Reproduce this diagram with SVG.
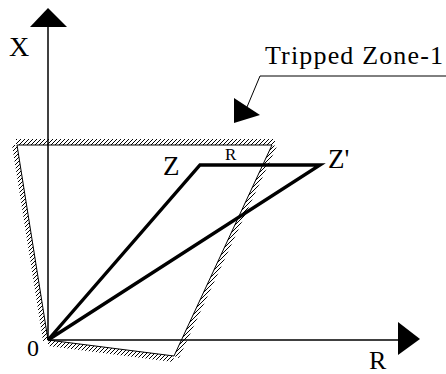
<svg xmlns="http://www.w3.org/2000/svg" width="446" height="374" viewBox="0 0 446 374">
<style>
.lbl{font-family:"Liberation Serif","Times New Roman",serif;fill:#000}
.axis{stroke:#000;stroke-width:1.5;fill:none}
.thick{stroke:#000;stroke-width:3.4;fill:none;stroke-linejoin:miter}
.edge{stroke:#000;stroke-width:1;fill:none}
.band{fill:url(#hatch);stroke:none}
</style>
<defs>
<pattern id="hatch" patternUnits="userSpaceOnUse" width="4" height="4">
<path d="M0,4 L4,0" stroke="#000" stroke-width="1"/>
</pattern>
</defs>
<rect width="446" height="374" fill="#fff"/>
<g id="zone">
<polygon class="band" points="16,139 275,139 275,145 16,145"/>
<polygon class="band" points="12,145 17,145 48,340 43,341"/>
<polygon class="band" points="272,145 277,146 179,358 174,356"/>
<polygon class="band" points="48,340 174,356 173,362 48,346"/>
<path class="edge" d="M17,145 L272,145 L174,356 L48,340 Z"/>
</g>
<g id="axes">
<line class="axis" x1="48" y1="27" x2="48" y2="340"/>
<polygon points="48,8 30,27 67,27" fill="#000"/>
<line class="axis" x1="48" y1="340" x2="398" y2="340"/>
<polygon points="420,339 398,322 398,355" fill="#000"/>
</g>
<g id="connectors">
<path class="thick" d="M48,340 L200,165 L320,165 Z"/>
<path d="M446,76 L260,76 L247,107" stroke="#000" stroke-width="1" fill="none"/>
<polygon points="234,98 260,115 234,123" fill="#000"/>
</g>
<g id="labels">
<text class="lbl" x="9" y="56" font-size="28">X</text>
<text class="lbl" x="369" y="369" font-size="26">R</text>
<text class="lbl" x="27" y="356" font-size="24">0</text>
<text class="lbl" x="163" y="175" font-size="27">Z</text>
<text class="lbl" x="328" y="168" font-size="27">Z'</text>
<text class="lbl" x="225" y="160" font-size="17">R</text>
<text class="lbl" x="265" y="64" font-size="26" textLength="178">Tripped Zone-1</text>
</g>
</svg>
